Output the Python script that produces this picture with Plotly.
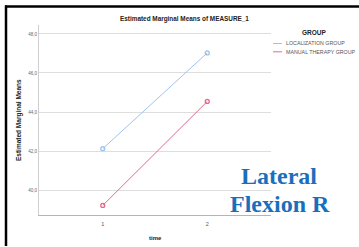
import plotly.graph_objects as go

time_points = [1, 2]
groups = ["LOCALIZATION GROUP", "MANUAL THERAPY GROUP"]
localization_means = [42.12, 47.03]
manual_therapy_means = [39.21, 44.54]
y_ticks = [40, 42, 44, 46, 48]
group_colors = ["#9ec3f0", "#e8688a"]

W, H = 359, 247
L, R, T, B = 39, 88, 25, 32
PW, PH = W - L - R, H - T - B


def px(x):
    return (x - L) / PW


def py(y):
    return (H - B - y) / PH


fig = go.Figure()
for name, vals, col in zip(groups, [localization_means, manual_therapy_means], group_colors):
    fig.add_trace(go.Scatter(
        x=time_points, y=vals, name=name, mode="lines+markers",
        line=dict(color=col, width=1),
        marker=dict(symbol="circle-open", size=4, color=col, line=dict(width=1.3)),
        showlegend=False,
    ))

font = "Liberation Sans, Arial, sans-serif"
fig.update_layout(
    width=W, height=H, autosize=False,
    margin=dict(l=L, r=R, t=T, b=B, pad=0, autoexpand=False),
    paper_bgcolor="white", plot_bgcolor="white",
    separators=",.",
    font=dict(family=font, color="#333333"),
    showlegend=False,
    xaxis=dict(
        range=[0.39, 2.61], tickvals=time_points, ticktext=[str(t) for t in time_points],
        showgrid=False, zeroline=False, showline=True, linecolor="#b5b5b5", linewidth=1,
        ticks="outside", ticklen=3, tickcolor="rgba(0,0,0,0)",
        tickfont=dict(size=5.5, color="#555555"), automargin=False,
    ),
    yaxis=dict(
        range=[38.72, 48.46], tickvals=y_ticks, tickformat=".1f",
        showgrid=True, gridcolor="#dedede", gridwidth=1,
        zeroline=False, showline=True, linecolor="#cfcfcf", linewidth=1,
        ticks="", tickfont=dict(size=4.5, color="#666666"), automargin=False,
    ),
)

annotations = [
    dict(text="<b>Estimated Marginal Means of MEASURE_1</b>", x=px(184), y=py(19),
         font=dict(size=6.4, color="#222222")),
    dict(text="<b>Estimated Marginal Means</b>", x=px(19), y=py(120), textangle=-90,
         font=dict(size=6.5, color="#222222")),
    dict(text="<b>time</b>", x=px(155), y=py(238), font=dict(size=6, color="#222222")),
    dict(text="<b>GROUP</b>", x=px(314), y=py(32), font=dict(size=6.5, color="#222222")),
    dict(text="<b>Lateral</b>", x=px(279), y=py(176),
         font=dict(size=24, color="#1a6fbd", family="Liberation Serif, DejaVu Serif, serif")),
    dict(text="<b>Flexion R</b>", x=px(280), y=py(204),
         font=dict(size=24, color="#1a6fbd", family="Liberation Serif, DejaVu Serif, serif")),
]
for a in annotations:
    a.update(xref="paper", yref="paper", showarrow=False, xanchor="center", yanchor="middle")
    fig.add_annotation(**a)

# legend (custom, compact like the reference)
legend_rows = [43.5, 51.8]
for name, col, ry in zip(groups, group_colors, legend_rows):
    fig.add_shape(type="line", xref="paper", yref="paper", x0=px(273), x1=px(282),
                  y0=py(ry), y1=py(ry), line=dict(color=col, width=1))
    fig.add_annotation(text=name, xref="paper", yref="paper", x=px(284), y=py(ry),
                       xanchor="left", yanchor="middle", showarrow=False,
                       font=dict(size=5.3, color="#555555", family=font))

fig.add_shape(type="line", xref="paper", yref="paper", x0=px(5), x1=px(359), y0=py(6.5), y1=py(6.5),
              line=dict(color="black", width=2.5))
fig.add_shape(type="line", xref="paper", yref="paper", x0=px(6), x1=px(6), y0=py(5.5), y1=py(246),
              line=dict(color="black", width=2.5))

fig.write_html("out.html", config={"displayModeBar": False},
               post_script="document.body.style.margin='0px';")
